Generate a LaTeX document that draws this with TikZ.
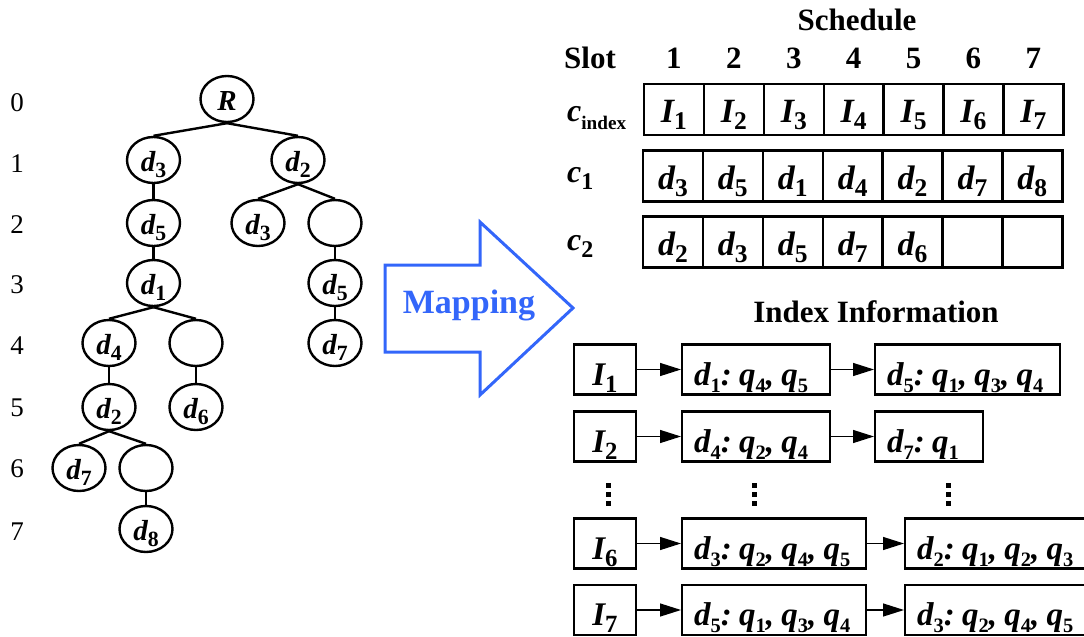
\documentclass[tikz,border=0pt]{standalone}
\usepackage{fontspec}
\setmainfont{Liberation Serif}
\usetikzlibrary{shapes.geometric,arrows.meta}
\definecolor{mapblue}{RGB}{51,102,250}
\frenchspacing
\newcommand\subscale{0.75}
\newcommand\tsub[1]{\raisebox{-0.22em}{\scalebox{\subscale}{\upshape #1}}}
\newcommand\vd[1]{\textit{d}\tsub{#1}}
\newcommand\vq[1]{\textit{q}\tsub{#1}}
\newcommand\vI[1]{\textit{I}\tsub{#1}}
\newcommand\vc[1]{\textit{c}\tsub{#1}}
\newcommand\mycolon{:\hspace{0.22em}}
\newcommand\mycomma{,\hspace{0.22em}}
\newcommand\bigI[1]{{\renewcommand\subscale{0.75}\vI{#1}}}
\begin{document}
\begin{tikzpicture}[x=1pt,y=-1pt,
  tnode/.style={ellipse,draw,line width=2.4pt,minimum width=53pt,minimum height=46pt,inner sep=0pt,text height=22pt,text depth=0pt,font=\fontsize{29}{31}\selectfont\bfseries\itshape},
  tedge/.style={line width=2.4pt},
  lvl/.style={anchor=base,inner sep=0pt,font=\fontsize{27}{29}\selectfont},
  head/.style={anchor=base,inner sep=0pt,font=\fontsize{31}{33}\selectfont\bfseries},
  cell/.style={draw,line width=2.4pt,minimum width=59.9pt,minimum height=51pt,inner sep=0pt,text height=26pt,text depth=0pt,font=\fontsize{34}{36}\selectfont\bfseries\itshape},
  rowlab/.style={anchor=base west,inner sep=0pt,font=\fontsize{32}{34}\selectfont\bfseries\itshape},
  ibox/.style={draw,line width=2.4pt,minimum height=50pt,inner xsep=12pt,inner ysep=0pt,text height=31pt,text depth=0pt,align=left,font=\fontsize{33}{35}\selectfont\bfseries\itshape\renewcommand\subscale{0.62}},
  link/.style={line width=1.3pt,-{Triangle[length=21pt,width=13pt]}},
  dot/.style={fill=black},
]
\path[use as bounding box] (0,0) rectangle (1084,637);

% level numbers
\foreach \n/\y in {0/111,1/172,2/233,3/293,4/354,5/416,6/477,7/540}
  \node[lvl] (lv\n) at (17,\y) {\n};

% tree
\node[tnode] (r) at (227,99) {R};
\node[tnode] (a) at (153.5,160) {\vd{3}};
\node[tnode] (b) at (298,160) {\vd{2}};
\node[tnode] (c) at (153.5,223) {\vd{5}};
\node[tnode] (d) at (258,223) {\vd{3}};
\node[tnode] (e) at (335,223) {};
\node[tnode] (f) at (153.5,283) {\vd{1}};
\node[tnode] (g) at (335,283) {\vd{5}};
\node[tnode] (h) at (109,343) {\vd{4}};
\node[tnode] (i) at (196,343) {};
\node[tnode] (j) at (335,343) {\vd{7}};
\node[tnode] (k) at (109,407) {\vd{2}};
\node[tnode] (l) at (196,407) {\vd{6}};
\node[tnode] (m) at (79,468) {\vd{7}};
\node[tnode] (n) at (146,468) {};
\node[tnode] (o) at (146,529) {\vd{8}};
\foreach \p/\q in {r/a,r/b,a/c,b/d,b/e,c/f,e/g,f/h,f/i,g/j,h/k,i/l,k/m,k/n,n/o}
  \draw[tedge] (\p.south) -- (\q.north);

% mapping arrow
\draw[mapblue,line width=3pt,line join=miter] (385,265) -- (480,265) -- (480,222) -- (573,308) -- (480,395) -- (480,352) -- (385,352) -- cycle;
\node[inner sep=0pt,text=mapblue,font=\fontsize{34}{36}\selectfont\bfseries] (map) at (469,305) {Mapping};

% schedule
\node[head] (sched) at (857,30) {Schedule};
\node[head] (slot) at (590,68) {Slot};
\foreach \k in {1,...,7}
  \node[head] (s\k) at ({644+59.9*(\k-0.5)},68) {\k};
\node[rowlab] (lidx) at (567,121) {\textit{c}\raisebox{-0.28em}{\scalebox{0.6}{\upshape index}}};
\node[rowlab] (lc1) at (567,182) {\vc{1}};
\node[rowlab] (lc2) at (567,250) {\vc{2}};
\foreach \k in {1,...,7}
  \node[cell] (ix\k) at ({644+59.9*(\k-0.5)},109.5) {\vI{\k}};
\foreach \k/\t in {1/3,2/5,3/1,4/4,5/2,6/7,7/8}
  \node[cell] (ca\k) at ({643+59.9*(\k-0.5)},176) {\vd{\t}};
\foreach \k/\t in {1/2,2/3,3/5,4/7,5/6}
  \node[cell] (cb\k) at ({643+59.9*(\k-0.5)},242) {\vd{\t}};
\foreach \k in {6,7}
  \node[cell] (cb\k) at ({643+59.9*(\k-0.5)},242) {};

% index information
\node[head] (ihead) at (876,322) {Index Information};
\node[ibox,minimum width=62pt,inner xsep=0pt] (i1) at (605,369.5) {\bigI{1}};
\node[ibox,text width=124pt,anchor=west] (i1a) at (681,369.5) {\mbox{\vd{1}\mycolon\vq{4}\mycomma\vq{5}}};
\node[ibox,text width=161pt,anchor=west] (i1b) at (874,369.5) {\mbox{\vd{5}\mycolon\vq{1}\mycomma\vq{3}\mycomma\vq{4}}};
\node[ibox,minimum width=62pt,inner xsep=0pt] (i2) at (605,436.5) {\bigI{2}};
\node[ibox,text width=124pt,anchor=west] (i2a) at (681,436.5) {\mbox{\vd{4}\mycolon\vq{2}\mycomma\vq{4}}};
\node[ibox,text width=84pt,anchor=west] (i2b) at (874,436.5) {\mbox{\vd{7}\mycolon\vq{1}}};
\node[ibox,minimum width=62pt,inner xsep=0pt] (i6) at (605,543.5) {\bigI{6}};
\node[ibox,text width=160pt,anchor=west] (i6a) at (681,543.5) {\mbox{\vd{3}\mycolon\vq{2}\mycomma\vq{4}\mycomma\vq{5}}};
\node[ibox,text width=182pt,anchor=west] (i6b) at (904,543.5) {\mbox{\vd{2}\mycolon\vq{1}\mycomma\vq{2}\mycomma\vq{3}}};
\node[ibox,minimum width=62pt,inner xsep=0pt] (i7) at (605,610) {\bigI{7}};
\node[ibox,text width=160pt,anchor=west] (i7a) at (681,610) {\mbox{\vd{5}\mycolon\vq{1}\mycomma\vq{3}\mycomma\vq{4}}};
\node[ibox,text width=182pt,anchor=west] (i7b) at (904,610) {\mbox{\vd{3}\mycolon\vq{2}\mycomma\vq{4}\mycomma\vq{5}}};
\foreach \p/\q in {i1/i1a,i1a/i1b,i2/i2a,i2a/i2b,i6/i6a,i6a/i6b,i7/i7a,i7a/i7b}
  \draw[link] (\p.east) -- (\q.west);

% vertical ellipsis dots
\foreach \x in {608,754,948}
  \foreach \y in {485.5,494.5,503}
    \fill[dot] (\x-2.5,\y-2.5) rectangle (\x+2.5,\y+2.5);
\end{tikzpicture}
\end{document}
